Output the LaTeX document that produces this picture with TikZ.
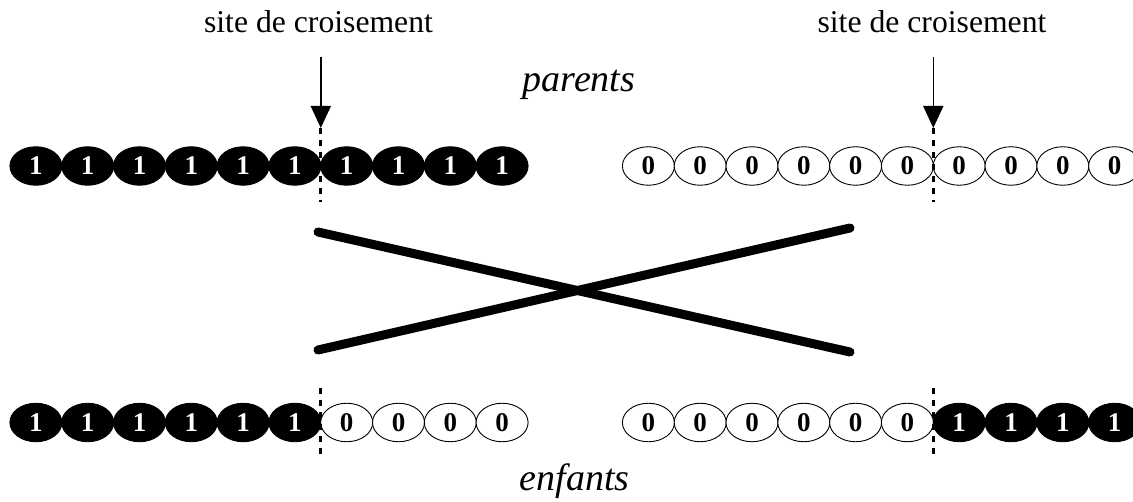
\documentclass[tikz,border=0pt]{standalone}
\usepackage{fontspec}
\setmainfont{Liberation Serif}
\usetikzlibrary{shapes.geometric,arrows.meta}
\begin{document}
\begin{tikzpicture}[x=1pt,y=-1pt,
  gene/.style={ellipse, minimum width=52pt, minimum height=38.5pt, inner sep=0pt,
    line width=0.9pt, font=\fontsize{27}{27}\selectfont\bfseries},
  one/.style={gene, draw=black, fill=black, text=white},
  zero/.style={gene, draw=black, fill=white, text=black},
  cut/.style={line width=3pt, dash pattern=on 6pt off 6pt},
  site/.style={line width=1.6pt, -{Triangle[width=20pt,length=22pt]}},
  cross/.style={line width=9pt, line cap=round},
  lbl/.style={anchor=base, font=\fontsize{31.7}{38}\selectfont},
  ital/.style={anchor=base, font=\fontsize{38}{45}\selectfont\itshape}
]
\useasboundingbox (0,0) rectangle (1133,502);
\clip (0,0) rectangle (1133,502);

% labels
\node[lbl] (s1) at (318.5,33) {site de croisement};
\node[lbl] (s2) at (932,33) {site de croisement};
\node[ital] (par) at (579,92) {parents};
\node[ital] (enf) at (574.5,490) {enfants};

% parents
\foreach \i in {0,...,9} \node[one] (pa\i) at ({35.9+51.8*\i},166) {1};
\foreach \i in {0,...,9} \node[zero] (pb\i) at ({648.4+51.8*\i},166) {0};

% children
\foreach \i in {0,...,5} \node[one] (ca\i) at ({35.9+51.8*\i},422.5) {1};
\foreach \i in {6,...,9} \node[zero] (ca\i) at ({35.9+51.8*\i},422.5) {0};
\foreach \i in {0,...,5} \node[zero] (cb\i) at ({648.4+51.8*\i},422.5) {0};
\foreach \i in {6,...,9} \node[one] (cb\i) at ({648.4+51.8*\i},422.5) {1};

% crossover sites
\coordinate (a1) at (320.8,57);
\coordinate (t1) at (320.8,128);
\coordinate (b1) at (320.8,202);
\coordinate (a2) at (933.3,57);
\coordinate (t2) at (933.3,128);
\coordinate (b2) at (933.3,202);
\coordinate (u1) at (320.8,388);
\coordinate (v1) at (320.8,457);
\coordinate (u2) at (933.3,388);
\coordinate (v2) at (933.3,457);
\draw[cut] (t1) -- (b1);
\draw[cut] (t2) -- (b2);
\draw[cut] (u1) -- (v1);
\draw[cut] (u2) -- (v2);
\draw[site] (a1) -- (t1);
\draw[site] (a2) -- (t2);

% cross
\coordinate (x1) at (318,232);
\coordinate (x2) at (850,352);
\coordinate (x3) at (318,350);
\coordinate (x4) at (850,228);
\draw[cross] (x1) -- (x2);
\draw[cross] (x3) -- (x4);
\end{tikzpicture}
\end{document}
